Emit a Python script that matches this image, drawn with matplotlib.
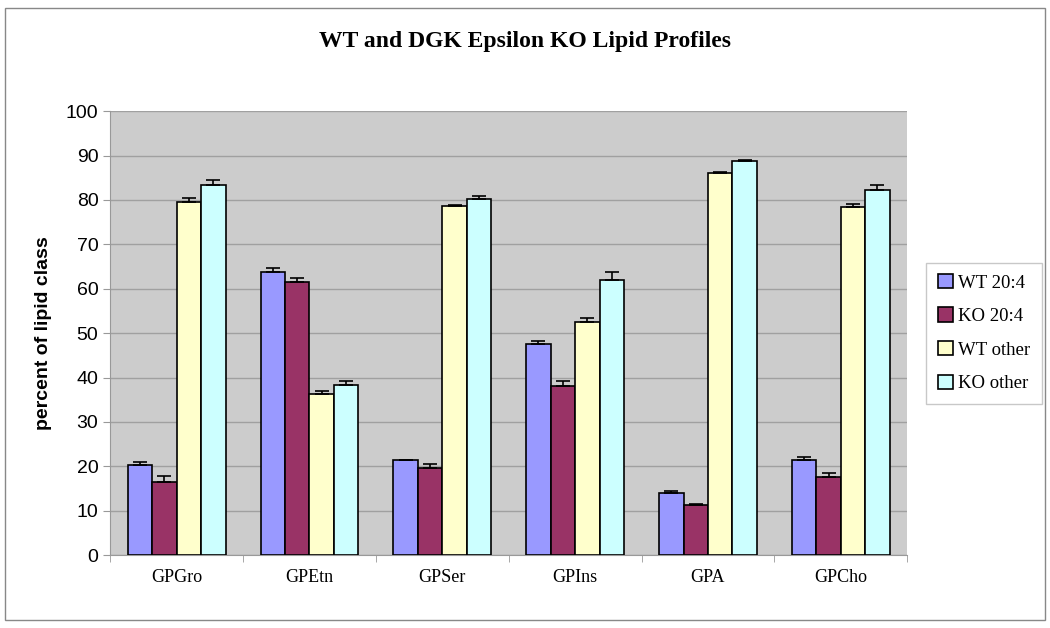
import numpy as np
import matplotlib.pyplot as plt
from matplotlib.patches import Rectangle

categories = ['GPGro', 'GPEtn', 'GPSer', 'GPIns', 'GPA', 'GPCho']
series = ['WT 20:4', 'KO 20:4', 'WT other', 'KO other']
wt_204 = [20.3, 63.7, 21.5, 47.5, 14.0, 21.4]
ko_204 = [16.5, 61.5, 19.7, 38.0, 11.2, 17.6]
wt_other = [79.5, 36.2, 78.6, 52.5, 86.0, 78.5]
ko_other = [83.4, 38.3, 80.3, 62.0, 88.7, 82.3]
wt_204_err = [0.7, 1.0, 0.0, 0.7, 0.4, 0.7]
ko_204_err = [1.3, 1.0, 0.8, 1.3, 0.3, 1.0]
wt_other_err = [1.0, 0.7, 0.3, 1.0, 0.3, 0.7]
ko_other_err = [1.0, 1.0, 0.7, 1.7, 0.3, 1.0]

values = [wt_204, ko_204, wt_other, ko_other]
errors = [wt_204_err, ko_204_err, wt_other_err, ko_other_err]
colors = ['#9999FF', '#993366', '#FFFFCC', '#CCFFFF']

plt.rcParams['font.family'] = ['Liberation Serif', 'DejaVu Serif']

fig = plt.figure(figsize=(10.5, 6.28), dpi=100)
fig.patches.append(Rectangle((0.005, 0.012), 0.99, 0.976, transform=fig.transFigure,
                             fill=False, edgecolor='#888888', linewidth=1))
ax = fig.add_axes([0.105, 0.116, 0.759, 0.707])
ax.set_facecolor('#CCCCCC')

x = np.arange(len(categories))
w = 0.184
for i, (vals, errs, c, name) in enumerate(zip(values, errors, colors, series)):
    pos = x + (i - 1.5) * w
    ax.bar(pos, vals, width=w, color=c, edgecolor='black', linewidth=1.2, label=name, zorder=3)
    ax.errorbar(pos, vals, yerr=[np.zeros(len(errs)), errs], fmt='none', ecolor='black',
                elinewidth=1.2, capsize=5, capthick=1.2, zorder=4)

ax.set_xlim(-0.5, len(categories) - 0.5)
ax.set_ylim(0, 100)
ax.set_yticks(range(0, 101, 10))
ax.yaxis.grid(True, color='#A0A0A0', linewidth=1, zorder=0)
ax.set_xticks(x)
ax.set_xticklabels(categories, fontsize=13)
ax.set_xticks(np.arange(len(categories) + 1) - 0.5, minor=True)
ax.tick_params(axis='x', which='major', length=0, pad=10)
ax.tick_params(axis='x', which='minor', length=5, color='#999999')
ax.tick_params(axis='y', labelsize=14, length=5, color='#999999')
for lab in ax.get_yticklabels():
    lab.set_family(['Liberation Sans', 'DejaVu Sans'])
for s in ['top', 'right']:
    ax.spines[s].set_visible(False)
ax.spines['left'].set_color('#999999')
ax.spines['bottom'].set_color('#999999')

ax.set_ylabel('percent of lipid class', fontsize=14, fontweight='bold',
              family=['Liberation Sans', 'DejaVu Sans'], labelpad=10)
fig.suptitle('WT and DGK Epsilon KO Lipid Profiles', fontsize=17, fontweight='bold', y=0.95)

leg = ax.legend(loc='center left', bbox_to_anchor=(1.024, 0.5), fontsize=13.5, frameon=True,
                fancybox=False, edgecolor='#BBBBBB', handlelength=0.8, handleheight=0.8,
                handletextpad=0.3, labelspacing=0.85, borderpad=0.6, borderaxespad=0)

fig.savefig('out.png', dpi=100)
